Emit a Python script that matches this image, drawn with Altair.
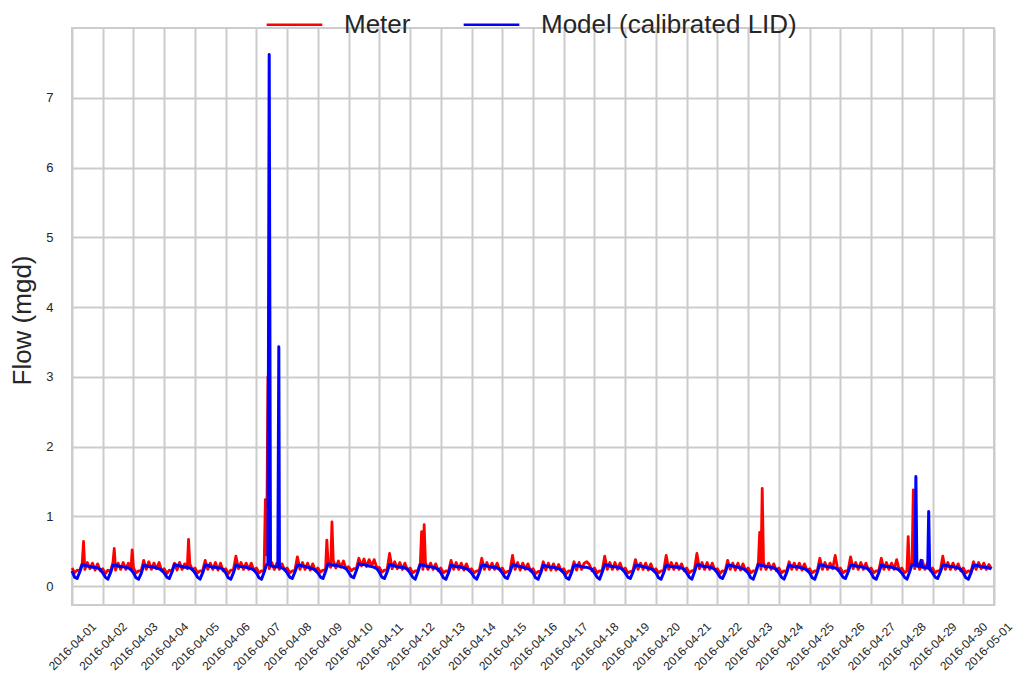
import altair as alt
import pandas as pd

series_names = ["Meter", "Model (calibrated LID)"]
series_colors = ["#ff0000", "#0000ff"]
hours = [0, 2, 4, 6, 8, 10, 12, 14, 16, 18, 20, 22]

# Meter flow (mgd), one row per day 2016-04-01 .. 2016-04-30, 2-hour steps
meter_daily = [
    [0.26, 0.19, 0.23, 0.22, 0.33, 0.24, 0.34, 0.25, 0.33, 0.23, 0.32, 0.22],
    [0.25, 0.18, 0.23, 0.21, 0.34, 0.23, 0.33, 0.24, 0.34, 0.24, 0.33, 0.23],
    [0.26, 0.19, 0.22, 0.22, 0.37, 0.24, 0.35, 0.24, 0.33, 0.25, 0.34, 0.22],
    [0.25, 0.18, 0.23, 0.21, 0.33, 0.23, 0.34, 0.24, 0.32, 0.25, 0.32, 0.23],
    [0.26, 0.19, 0.22, 0.22, 0.37, 0.24, 0.33, 0.24, 0.34, 0.23, 0.33, 0.22],
    [0.25, 0.18, 0.23, 0.23, 0.43, 0.25, 0.34, 0.24, 0.33, 0.24, 0.33, 0.23],
    [0.26, 0.19, 0.22, 0.22, 0.45, 0.25, 0.34, 0.24, 0.33, 0.24, 0.32, 0.23],
    [0.26, 0.19, 0.22, 0.22, 0.42, 0.24, 0.34, 0.24, 0.33, 0.23, 0.32, 0.22],
    [0.26, 0.20, 0.23, 0.23, 0.34, 0.27, 0.37, 0.26, 0.36, 0.27, 0.36, 0.25],
    [0.28, 0.22, 0.25, 0.25, 0.40, 0.29, 0.39, 0.28, 0.38, 0.29, 0.38, 0.26],
    [0.27, 0.20, 0.23, 0.23, 0.47, 0.25, 0.35, 0.25, 0.34, 0.24, 0.33, 0.23],
    [0.26, 0.19, 0.22, 0.22, 0.33, 0.24, 0.34, 0.24, 0.33, 0.24, 0.32, 0.22],
    [0.26, 0.19, 0.22, 0.21, 0.37, 0.24, 0.34, 0.24, 0.33, 0.23, 0.32, 0.22],
    [0.25, 0.19, 0.22, 0.22, 0.40, 0.24, 0.34, 0.24, 0.33, 0.24, 0.33, 0.23],
    [0.26, 0.19, 0.21, 0.22, 0.44, 0.24, 0.34, 0.23, 0.33, 0.24, 0.32, 0.22],
    [0.25, 0.18, 0.21, 0.21, 0.35, 0.23, 0.33, 0.23, 0.32, 0.23, 0.31, 0.22],
    [0.25, 0.18, 0.22, 0.21, 0.35, 0.23, 0.34, 0.24, 0.33, 0.35, 0.31, 0.22],
    [0.26, 0.19, 0.22, 0.22, 0.43, 0.24, 0.34, 0.24, 0.34, 0.24, 0.33, 0.23],
    [0.26, 0.19, 0.21, 0.22, 0.38, 0.24, 0.33, 0.24, 0.33, 0.23, 0.32, 0.22],
    [0.25, 0.19, 0.22, 0.22, 0.44, 0.24, 0.34, 0.24, 0.33, 0.24, 0.32, 0.22],
    [0.26, 0.19, 0.22, 0.23, 0.47, 0.25, 0.34, 0.24, 0.34, 0.24, 0.33, 0.23],
    [0.25, 0.18, 0.22, 0.21, 0.37, 0.24, 0.33, 0.23, 0.33, 0.23, 0.32, 0.22],
    [0.26, 0.19, 0.22, 0.22, 0.34, 0.24, 0.34, 0.24, 0.33, 0.24, 0.32, 0.22],
    [0.26, 0.19, 0.22, 0.21, 0.35, 0.24, 0.33, 0.24, 0.33, 0.23, 0.32, 0.22],
    [0.25, 0.19, 0.22, 0.22, 0.40, 0.24, 0.34, 0.24, 0.33, 0.25, 0.44, 0.23],
    [0.26, 0.19, 0.22, 0.22, 0.42, 0.25, 0.34, 0.24, 0.34, 0.24, 0.33, 0.23],
    [0.26, 0.19, 0.22, 0.22, 0.40, 0.24, 0.34, 0.24, 0.33, 0.24, 0.38, 0.23],
    [0.26, 0.19, 0.22, 0.22, 0.33, 0.25, 0.34, 0.24, 0.37, 0.24, 0.33, 0.23],
    [0.26, 0.19, 0.22, 0.22, 0.43, 0.24, 0.34, 0.24, 0.33, 0.24, 0.32, 0.22],
    [0.26, 0.19, 0.22, 0.21, 0.35, 0.24, 0.34, 0.25, 0.33, 0.24, 0.31, 0.25],
]

# Model (calibrated LID) flow (mgd), same layout
model_daily = [
    [0.22, 0.13, 0.11, 0.20, 0.31, 0.30, 0.29, 0.28, 0.27, 0.27, 0.26, 0.24],
    [0.19, 0.13, 0.10, 0.19, 0.30, 0.30, 0.29, 0.28, 0.28, 0.27, 0.26, 0.24],
    [0.19, 0.12, 0.10, 0.18, 0.30, 0.29, 0.28, 0.28, 0.27, 0.26, 0.25, 0.23],
    [0.19, 0.13, 0.11, 0.20, 0.31, 0.30, 0.29, 0.28, 0.27, 0.27, 0.26, 0.24],
    [0.19, 0.13, 0.10, 0.19, 0.30, 0.30, 0.28, 0.27, 0.27, 0.26, 0.26, 0.24],
    [0.19, 0.12, 0.10, 0.19, 0.30, 0.29, 0.28, 0.28, 0.27, 0.26, 0.25, 0.23],
    [0.19, 0.12, 0.10, 0.20, 0.31, 0.30, 0.29, 0.28, 0.28, 0.27, 0.26, 0.24],
    [0.19, 0.13, 0.11, 0.20, 0.30, 0.30, 0.29, 0.28, 0.27, 0.26, 0.25, 0.23],
    [0.19, 0.13, 0.11, 0.21, 0.32, 0.31, 0.30, 0.30, 0.29, 0.28, 0.27, 0.25],
    [0.20, 0.14, 0.12, 0.22, 0.32, 0.31, 0.31, 0.30, 0.29, 0.28, 0.27, 0.25],
    [0.20, 0.13, 0.11, 0.20, 0.31, 0.30, 0.29, 0.28, 0.27, 0.27, 0.26, 0.24],
    [0.19, 0.13, 0.10, 0.20, 0.31, 0.30, 0.29, 0.28, 0.28, 0.27, 0.26, 0.24],
    [0.19, 0.12, 0.10, 0.19, 0.30, 0.29, 0.28, 0.28, 0.27, 0.26, 0.25, 0.23],
    [0.19, 0.13, 0.10, 0.19, 0.30, 0.30, 0.29, 0.28, 0.27, 0.27, 0.26, 0.24],
    [0.19, 0.13, 0.11, 0.20, 0.31, 0.30, 0.29, 0.28, 0.27, 0.26, 0.25, 0.23],
    [0.19, 0.12, 0.10, 0.19, 0.30, 0.29, 0.28, 0.27, 0.27, 0.26, 0.25, 0.23],
    [0.19, 0.12, 0.10, 0.19, 0.30, 0.30, 0.29, 0.28, 0.27, 0.27, 0.26, 0.24],
    [0.19, 0.13, 0.10, 0.20, 0.31, 0.30, 0.29, 0.28, 0.28, 0.27, 0.26, 0.24],
    [0.19, 0.13, 0.11, 0.20, 0.30, 0.30, 0.29, 0.28, 0.27, 0.26, 0.25, 0.23],
    [0.19, 0.12, 0.10, 0.19, 0.30, 0.29, 0.28, 0.28, 0.27, 0.27, 0.26, 0.24],
    [0.19, 0.13, 0.10, 0.20, 0.31, 0.30, 0.29, 0.28, 0.28, 0.27, 0.26, 0.24],
    [0.19, 0.13, 0.11, 0.19, 0.30, 0.30, 0.29, 0.28, 0.27, 0.26, 0.25, 0.23],
    [0.19, 0.12, 0.10, 0.20, 0.31, 0.30, 0.29, 0.28, 0.28, 0.27, 0.26, 0.24],
    [0.19, 0.13, 0.10, 0.19, 0.30, 0.29, 0.28, 0.28, 0.27, 0.26, 0.25, 0.23],
    [0.19, 0.12, 0.10, 0.20, 0.31, 0.30, 0.29, 0.28, 0.27, 0.27, 0.26, 0.24],
    [0.19, 0.13, 0.11, 0.20, 0.30, 0.30, 0.29, 0.28, 0.28, 0.27, 0.26, 0.24],
    [0.19, 0.12, 0.10, 0.19, 0.30, 0.29, 0.28, 0.28, 0.27, 0.26, 0.25, 0.23],
    [0.19, 0.13, 0.10, 0.20, 0.31, 0.30, 0.29, 0.28, 0.27, 0.27, 0.26, 0.24],
    [0.19, 0.13, 0.11, 0.20, 0.30, 0.30, 0.29, 0.28, 0.28, 0.27, 0.26, 0.24],
    [0.19, 0.12, 0.10, 0.19, 0.30, 0.30, 0.29, 0.28, 0.27, 0.27, 0.26, 0.25],
]

# Short events (timestamp, flow)
meter_events = [
    ("2016-04-01T09:00:00", 0.64),
    ("2016-04-02T09:00:00", 0.54),
    ("2016-04-02T23:00:00", 0.52),
    ("2016-04-04T19:00:00", 0.67),
    ("2016-04-07T07:00:00", 1.24),
    ("2016-04-07T09:00:00", 3.00),
    ("2016-04-09T07:00:00", 0.66),
    ("2016-04-09T11:00:00", 0.92),
    ("2016-04-12T09:00:00", 0.78),
    ("2016-04-12T11:00:00", 0.88),
    ("2016-04-23T09:00:00", 0.77),
    ("2016-04-23T11:00:00", 1.40),
    ("2016-04-28T05:00:00", 0.71),
    ("2016-04-28T09:00:00", 1.38),
]
model_events = [
    ("2016-04-07T09:00:00", 0.31),
    ("2016-04-07T10:00:00", 7.62),
    ("2016-04-07T11:00:00", 0.30),
    ("2016-04-07T16:45:00", 0.28),
    ("2016-04-07T17:30:00", 3.43),
    ("2016-04-07T18:15:00", 0.28),
    ("2016-04-28T10:15:00", 0.30),
    ("2016-04-28T11:00:00", 1.57),
    ("2016-04-28T11:45:00", 0.30),
    ("2016-04-28T15:00:00", 0.37),
    ("2016-04-28T20:15:00", 0.26),
    ("2016-04-28T21:00:00", 1.07),
    ("2016-04-28T21:45:00", 0.25),
]

y_ticks = [0, 1, 2, 3, 4, 5, 6, 7]


def build(daily, events):
    pts = {}
    for d, row in enumerate(daily):
        for h, v in zip(hours, row):
            pts[f"2016-04-{d + 1:02d}T{h:02d}:00:00"] = v
    for t, v in events:
        pts[t] = v
    return sorted(pts.items())


rows = []
for name, daily, events in [
    (series_names[0], meter_daily, meter_events),
    (series_names[1], model_daily, model_events),
]:
    for t, v in build(daily, events):
        rows.append({"time": t, "flow": v, "series": name})
df = pd.DataFrame(rows)

x_ticks = [alt.DateTime(year=2016, month=4, date=d) for d in range(1, 31)] + [
    alt.DateTime(year=2016, month=5, date=1)
]

color = alt.Color(
    "series:N",
    scale=alt.Scale(domain=series_names, range=series_colors),
    legend=alt.Legend(
        title=None,
        orient="none",
        direction="horizontal",
        legendX=193,
        legendY=-33,
        symbolType="stroke",
        symbolSize=3100,
        symbolStrokeWidth=2.5,
        labelFontSize=26,
        labelFont="Liberation Sans",
        labelColor="#262626",
        labelOffset=20,
        labelLimit=0,
        columnPadding=47,
        padding=0,
    ),
)

x_enc = alt.X(
    "time:T",
    scale=alt.Scale(
        domain=[alt.DateTime(year=2016, month=4, date=1), alt.DateTime(year=2016, month=5, date=1)],
        nice=False,
    ),
    axis=alt.Axis(
        values=x_ticks,
        format="%Y-%m-%d",
        labelAngle=-45,
        labelAlign="center",
        labelBaseline="middle",
        labelPadding=41,
        labelFontSize=12,
        labelOffset={
            "condition": {"test": "datum.value > datetime(2016, 3, 30, 12)", "value": -6},
            "value": 0,
        },
        labelOverlap=False,
        labelBound=False,
        ticks=False,
        tickSize=0,
        domain=False,
        title=None,
    ),
)
y_enc = alt.Y(
    "flow:Q",
    scale=alt.Scale(domain=[-0.27, 8.0], nice=False, zero=False),
    axis=alt.Axis(
        values=y_ticks,
        labelFontSize=13,
        labelPadding=19,
        ticks=False,
        tickSize=0,
        domain=False,
        title="Flow (mgd)",
        titleFontSize=26,
        titleFontWeight="normal",
        titleX=-50,
        titleY=292,
        titleAngle=-90,
        titleAlign="center",
        titleBaseline="middle",
    ),
)

meter = (
    alt.Chart(df)
    .transform_filter(alt.datum.series == series_names[0])
    .mark_line(strokeWidth=2.8, strokeJoin="round")
    .encode(x=x_enc, y=y_enc, color=color)
)
model = (
    alt.Chart(df)
    .transform_filter(alt.datum.series == series_names[1])
    .mark_line(strokeWidth=3, strokeJoin="round")
    .encode(x=x_enc, y=y_enc, color=color)
)

chart = (
    alt.layer(meter, model)
    .properties(
        width=922,
        height=577,
        padding={"left": 64, "top": 20, "right": 21, "bottom": 68},
        autosize=alt.AutoSizeParams(type="none"),
    )
    .configure(font="Liberation Sans")
    .configure_view(stroke="#cccccc", strokeWidth=2)
    .configure_axis(
        gridColor="#cccccc",
        gridWidth=2,
        labelColor="#262626",
        titleColor="#262626",
        labelFont="Liberation Sans",
        titleFont="Liberation Sans",
    )
)

chart.save("out.html", embed_options={"renderer": "svg", "actions": False})
